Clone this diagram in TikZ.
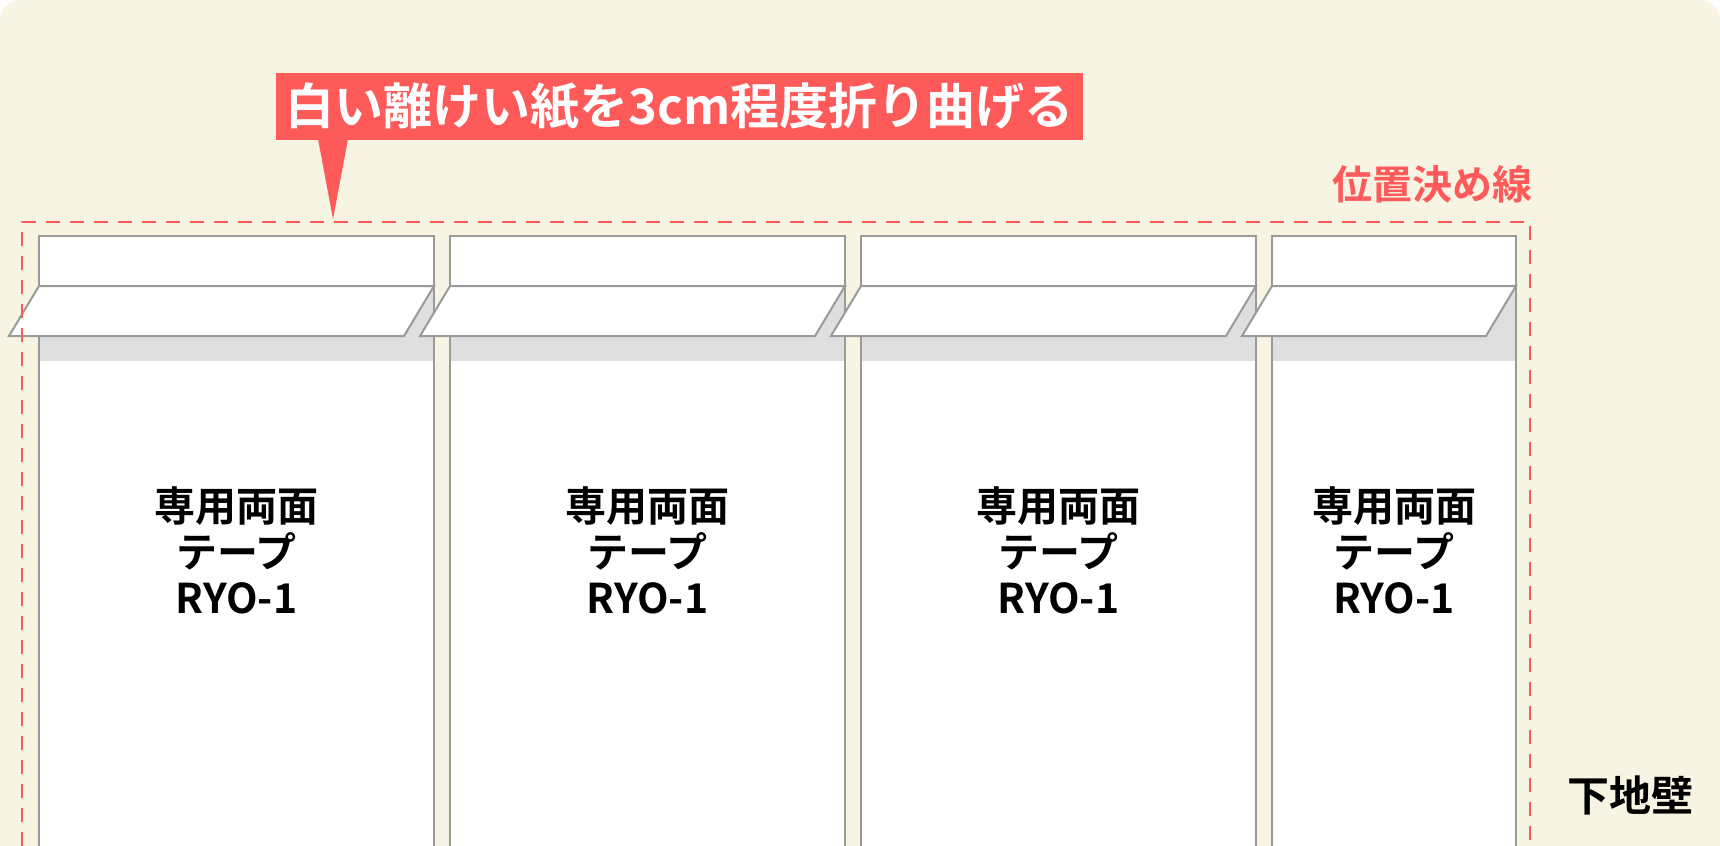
\documentclass[tikz,border=0pt]{standalone}
\usepackage{fontspec}
\setmainfont{Noto Sans CJK JP}
\newfontfamily\jpbold{Noto Sans CJK JP Bold}
\definecolor{wallbg}{HTML}{F8F4E4}
\definecolor{markred}{HTML}{FF5A5A}
\definecolor{edgegray}{HTML}{9A9A9A}
\definecolor{shadegray}{HTML}{DFDFDF}
\tikzset{
  strip/.style={draw=edgegray, line width=1pt, fill=white},
  tapelabel/.style={font=\jpbold\fontsize{20.5}{23}\selectfont, align=center},
}
\begin{document}
\begin{tikzpicture}[x=0.5pt,y=-0.5pt]
    \useasboundingbox (0,0) rectangle (1720,846);
    \fill[wallbg, rounded corners=10pt] (0,900) -- (0,0) -- (1720,0) -- (1720,900) -- cycle;
    % tape strips: left edge, right edge, name
    \foreach \xl/\xr/\nm in {39/434/ta, 450/845/tb, 861/1256/tc, 1272/1516/td} {
      \draw[strip] (\xl,846) -- (\xl,236) -- (\xr,236) -- (\xr,846);
      \fill[shadegray] (\xl,286) rectangle (\xr,361);
      \draw[edgegray, line width=1pt] (\xl,846) -- (\xl,236) -- (\xr,236) -- (\xr,846);
      \draw[strip] (\xl,286) -- (\xr,286) -- (\xr-30,336) -- (\xl-30,336) -- cycle;
      \node[tapelabel] (\nm) at ({(\xl+\xr)/2},550) {専用両面\\テープ\\RYO-1};
    }
    % positioning line
    \draw[markred, line width=1.3pt, dash pattern=on 7pt off 5pt] (22,846) -- (22,222) -- (1530,222) -- (1530,846);
    \node[anchor=south east, text=markred, font=\jpbold\fontsize{20}{24}\selectfont, inner sep=0pt] (guide) at (1533,204) {位置決め線};
    % callout
    \node[fill=markred, text=white, font=\jpbold\fontsize{24.5}{28}\selectfont, minimum height=33.5pt, minimum width=403.5pt, inner sep=0pt] (note) at (679.5,106.5) {白い離けい紙を3cm程度折り曲げる};
    \fill[markred] (318,139) -- (348,139) -- (333,219) -- cycle;
    \node[font=\jpbold\fontsize{21}{24}\selectfont] (wall) at (1630,795) {下地壁};
\end{tikzpicture}
\end{document}
